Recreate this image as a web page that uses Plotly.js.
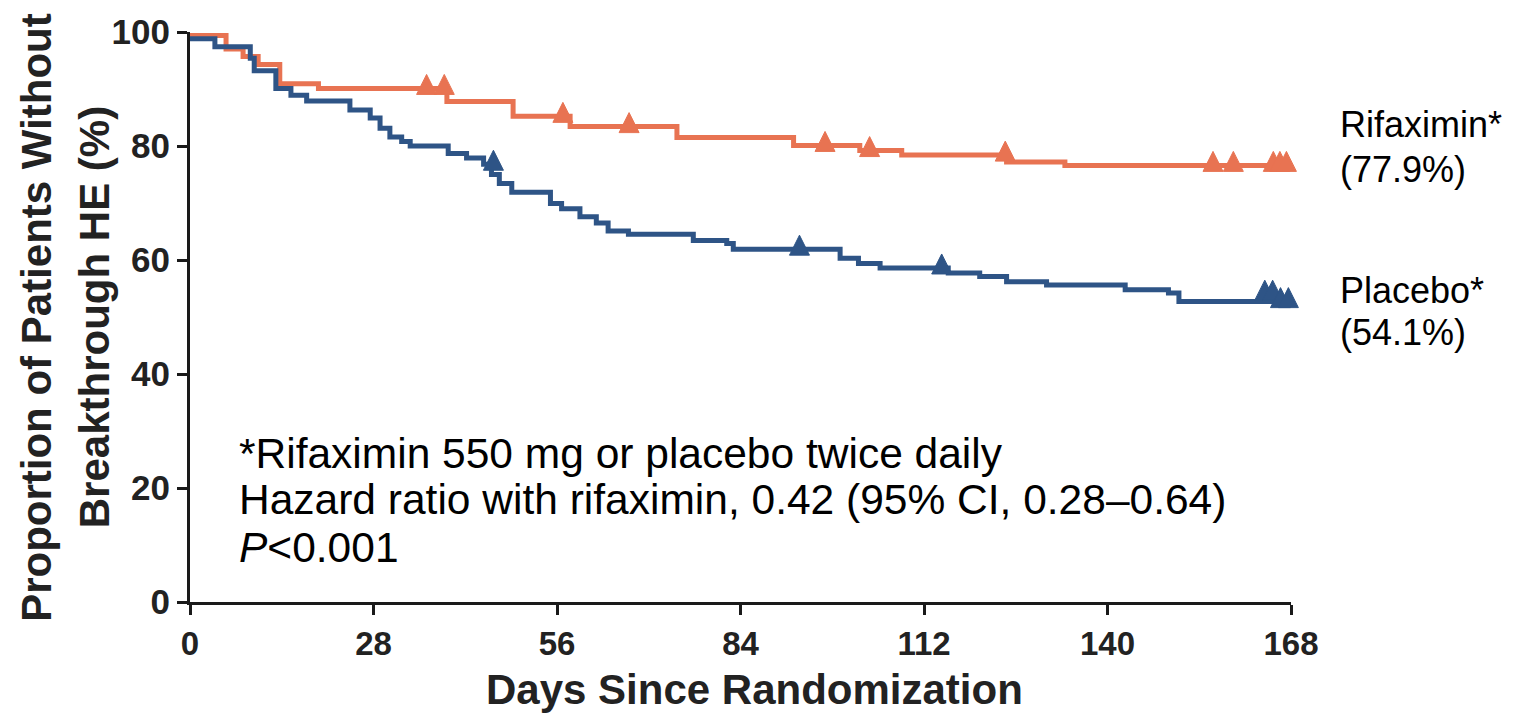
<!DOCTYPE html>
<html>
<head>
<meta charset="utf-8">
<script src="https://cdn.plot.ly/plotly-3.0.1.min.js"></script>
<style>
  html, body { margin: 0; padding: 0; background: #ffffff; }
  #chart { width: 1513px; height: 715px; }
</style>
</head>
<body>
<div id="chart"></div>
<script>
// ---- Data ----
const xTickVals = [0, 28, 56, 84, 112, 140, 168];
const yTickVals = [0, 20, 40, 60, 80, 100];

// Rifaximin Kaplan-Meier steps (day, % without breakthrough HE)
const rifaximinDays = [0, 5.5, 8.1, 10.4, 13.7, 19.6, 39.2, 49.3, 58.0, 74.3, 92.1, 102.2, 108.6, 124.6, 133.5, 168];
const rifaximinPct  = [99.4, 97.0, 95.7, 94.3, 90.9, 90.1, 87.8, 85.2, 83.4, 81.5, 80.1, 79.2, 78.4, 77.2, 76.6, 76.6];
// Rifaximin censoring marks
const rifaximinCensorDays = [36.1, 38.8, 56.9, 67.0, 96.9, 103.7, 124.4, 156.1, 159.2, 165.3, 166.3, 167.3, 168.3, 169.6];
const rifaximinCensorPct  = [90.1, 90.1, 85.2, 83.4, 80.1, 79.2, 78.4, 76.6, 76.6, 76.6, 76.6, 76.6, 76.6, 76.6];

// Placebo Kaplan-Meier steps
const placeboDays = [0, 3.8, 9.2, 9.8, 13.1, 15.4, 17.8, 24.4, 27.5, 29.0, 30.5, 32.3, 33.6, 39.4, 42.2, 44.8, 46.0, 47.2, 49.1, 55.0, 56.7, 59.5, 62.0, 63.8, 66.9, 76.8, 81.9, 82.9, 99.2, 102.0, 105.3, 115.7, 120.5, 124.6, 130.7, 142.7, 149.3, 150.9, 168];
const placeboPct  = [98.8, 97.4, 95.4, 93.2, 90.1, 88.9, 87.9, 86.3, 84.9, 83.1, 81.6, 80.8, 80.0, 78.7, 77.9, 76.8, 75.0, 73.4, 71.9, 69.9, 69.0, 67.6, 66.5, 65.1, 64.5, 63.4, 62.9, 61.9, 60.3, 59.4, 58.6, 57.7, 57.1, 56.2, 55.6, 54.8, 54.2, 52.7, 52.7];
// Placebo censoring marks
const placeboCensorDays = [46.3, 93.0, 114.7, 164.0, 165.2, 166.4, 167.6, 168.7, 169.8];
const placeboCensorPct  = [76.8, 61.9, 58.6, 54.0, 54.0, 52.7, 52.7, 52.7, 52.7];

const rifaximinColor = '#E87352';
const placeboColor = '#2E5486';
const FONT = 'Liberation Sans, Arial, Helvetica, sans-serif';

// Plot geometry (style): 570 px for 100 %, the censor triangle's apex sits ~14 px above the curve
const PLOT_H = 570, Y_SPAN = 100, APEX_PX = 14;
const apexShift = APEX_PX * Y_SPAN / PLOT_H;

// 'arrow-up' marker: filled triangle, apex at the point, as tall as it is wide
const censorTrace = (xs, ys, color) => ({
  x: xs, y: ys.map(v => v + apexShift), type: 'scatter', mode: 'markers', cliponaxis: false,
  marker: { symbol: 'arrow-up', size: 20, color: color, line: { color: color, width: 1 } },
  hoverinfo: 'skip', showlegend: false
});

const traces = [
  { x: rifaximinDays, y: rifaximinPct, type: 'scatter', mode: 'lines',
    line: { shape: 'hv', color: rifaximinColor, width: 5 }, hoverinfo: 'skip', showlegend: false },
  { x: placeboDays, y: placeboPct, type: 'scatter', mode: 'lines',
    line: { shape: 'hv', color: placeboColor, width: 5 }, hoverinfo: 'skip', showlegend: false },
  censorTrace(rifaximinCensorDays, rifaximinCensorPct, rifaximinColor),
  censorTrace(placeboCensorDays, placeboCensorPct, placeboColor)
];

const ann = (text, x, y, opts) => Object.assign({
  text: text, x: x, y: y, xref: 'paper', yref: 'y', showarrow: false,
  xanchor: 'left', yanchor: 'middle', font: { family: FONT, size: 36, color: '#000' }
}, opts || {});

const noteFont = { family: FONT, size: 42.5, color: '#000' };
const titleFont = { family: FONT, size: 42, color: '#222' };

const annotations = [
  ann('Rifaximin*', 1.0427, 83.7),
  ann('(77.9%)', 1.0427, 75.8),
  ann('Placebo*', 1.0427, 54.7),
  ann('(54.1%)', 1.0427, 47.2),
  ann('*Rifaximin 550 mg or placebo twice daily', 0.0427, 26.1, { font: noteFont }),
  ann('Hazard ratio with rifaximin, 0.42 (95% CI, 0.28–0.64)', 0.0427, 17.9, { font: noteFont }),
  ann('<i>P</i>&lt;0.001', 0.0427, 9.5, { font: noteFont }),
  // axis titles
  ann('<b>Proportion of Patients Without</b>', -0.14, 0.5, { yref: 'paper', xanchor: 'center', textangle: -90, font: titleFont }),
  ann('<b>Breakthrough HE (%)</b>', -0.087, 0.5, { yref: 'paper', xanchor: 'center', textangle: -90, font: titleFont }),
  ann('<b>Days Since Randomization</b>', 0.513, -0.154, { yref: 'paper', xanchor: 'center', font: titleFont })
];

const layout = {
  width: 1513, height: 715,
  margin: { l: 190, r: 222, t: 32, b: 113, pad: 0 },
  paper_bgcolor: '#ffffff', plot_bgcolor: '#ffffff',
  showlegend: false,
  xaxis: {
    range: [0, 168], tickmode: 'array', tickvals: xTickVals, ticktext: xTickVals.map(String),
    showgrid: false, zeroline: false, showline: true, linecolor: '#1a1a1a', linewidth: 3,
    ticks: 'outside', ticklen: 10, tickwidth: 3, tickcolor: '#1a1a1a',
    tickfont: { family: FONT, size: 33, color: '#222', weight: 'bold' }, fixedrange: true
  },
  yaxis: {
    range: [0, 100], tickmode: 'array', tickvals: yTickVals, ticktext: yTickVals.map(String),
    showgrid: false, zeroline: false, showline: true, linecolor: '#1a1a1a', linewidth: 3,
    ticks: 'outside', ticklen: 10, tickwidth: 3, tickcolor: '#1a1a1a',
    tickfont: { family: FONT, size: 35, color: '#222', weight: 'bold' }, fixedrange: true
  },
  annotations: annotations
};

Plotly.newPlot('chart', traces, layout, { staticPlot: true, displayModeBar: false });
</script>
</body>
</html>
